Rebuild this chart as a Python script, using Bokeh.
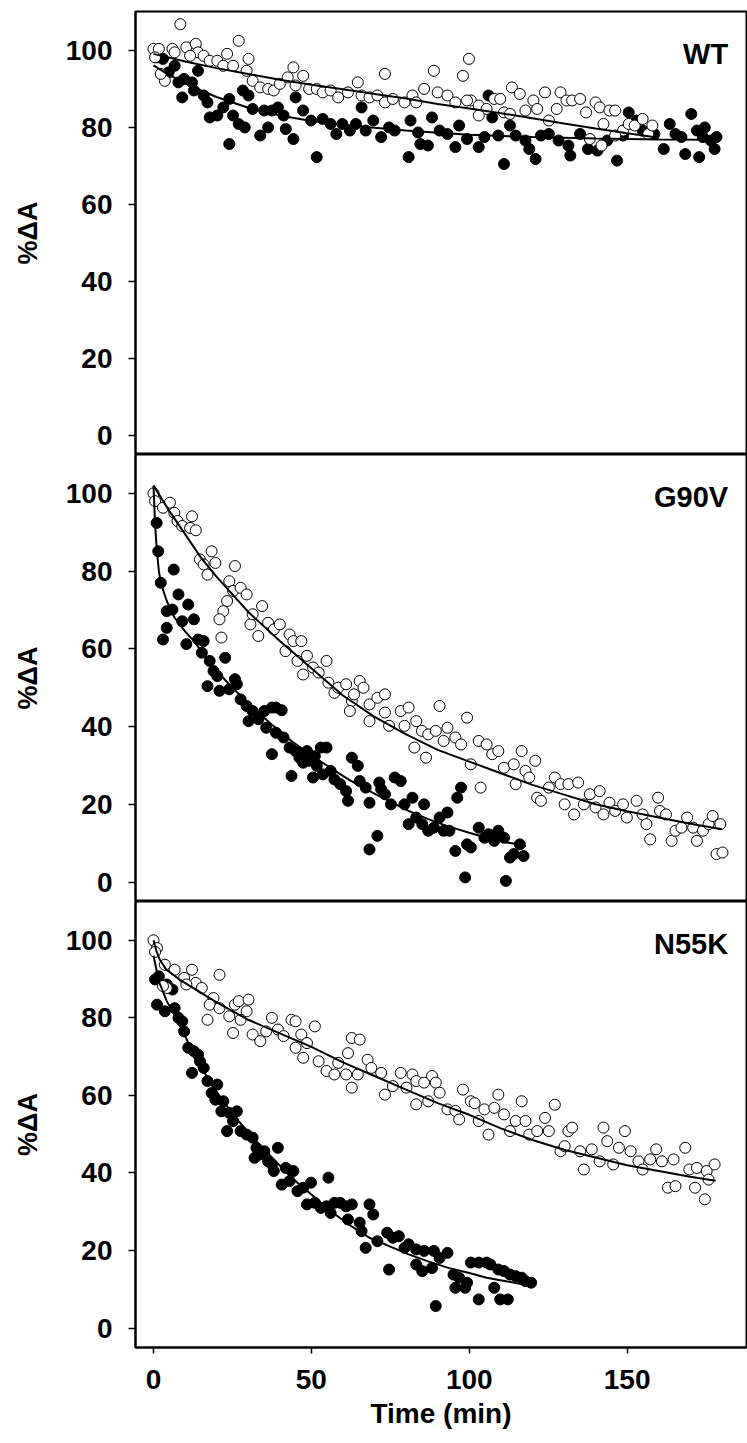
from bokeh.plotting import figure
from bokeh.layouts import column
from bokeh.models import FixedTicker, Label, Range1d
from bokeh.embed import file_html
from bokeh.resources import INLINE

FONT = "Liberation Sans"

# ---------------- WT ----------------
wt_open_t = [0, 1.7, 6, 8.5, 0.5, 3.6, 2.3, 6.7, 10.4, 13.4, 14.1, 11.6, 15.9, 17.8, 20.2, 23.3, 22.1, 25.2, 27, 30.1,
             29.5, 31.4, 33.8, 36.3, 38.1, 40, 42.5, 44.3, 47.4, 45, 49.3, 51.7, 53.6, 56.1, 58.5, 61.6, 64.7, 65.9, 68.4, 70.9,
             73.3, 73.3, 75.8, 79.5, 82, 85.7, 88.8, 90, 93.1, 95.6, 98, 99.9, 100.5, 103, 105.5, 107.9, 109.8, 111, 113.5, 116,
             117.8, 120.3, 124, 125.2, 127.7, 128.9, 130.8, 132.6, 135.1, 137, 140, 141.3, 142.5, 144.4, 146.2, 148.7, 150.5, 152.4, 154.9, 156.7,
             158, 138.2, 146.2, 141.9, 121.5, 112.9, 103, 99.3, 83.2]
wt_open_y = [100.3, 100.3, 100.3, 106.7, 98.1, 92, 93.8, 99.4, 100.7, 101.6, 99.4, 98.5, 98.5, 97.2, 97.2, 99, 95.9, 95.9, 102.4, 97.7,
             94.6, 92, 90.3, 89.9, 89.5, 91.2, 92.9, 95.5, 93.3, 90.8, 89.9, 89.9, 89, 89.5, 87.7, 89, 91.6, 88.2, 87.7, 88.2,
             93.8, 86.4, 87.3, 86.4, 88.2, 89.9, 94.6, 89, 88.2, 86.4, 93.3, 97.7, 86.9, 85.6, 84.7, 87.3, 87.3, 83.8, 90.3, 88.6,
             84.3, 86.9, 89, 81.7, 84.7, 89, 86.9, 86.9, 87.3, 83.8, 86.4, 85.1, 80.8, 84.3, 84.3, 79.1, 80.8, 80.4, 82.1, 78.2,
             80.4, 76.9, 77.8, 75.2, 84.7, 83.4, 83, 86.9, 86.4]
wt_fill_t = [1.1, 3, 6.7, 4.8, 7.9, 9.7, 9.1, 12.2, 14.1, 12.8, 15.9, 17.1, 17.8, 20.2, 22.1, 24, 25.2, 27, 28.9, 28.3,
             30.1, 24, 31.4, 35.1, 33.8, 36.3, 37.5, 39.4, 41.2, 41.9, 44.3, 45, 47.4, 49.9, 51.7, 53.6, 56.1, 57.9, 59.8, 62.2,
             64.1, 65.9, 67.2, 69.6, 72.1, 74.6, 76.4, 80.8, 81.4, 83.8, 84.5, 86.9, 88.2, 90.6, 93.1, 95.6, 96.8, 99.3, 103, 104.8,
             106.1, 107.3, 109.2, 111, 112.9, 114.7, 117.8, 119, 121, 122.7, 125.2, 128.3, 131.4, 132, 135.1, 137.6, 140.6, 143.7, 146.8, 148.7,
             150.5, 153, 154.9, 158.6, 161.6, 163.5, 165.3, 167.2, 168.4, 170.3, 172.1, 174, 172.8, 174.6, 176.5, 178.3, 177.7]
wt_fill_y = [98.1, 97.7, 95.9, 94.2, 91.6, 92.5, 87.7, 91.6, 94.6, 89.5, 88.2, 86.4, 82.5, 83, 85.1, 87.3, 83, 80.8, 79.9, 89.5,
             88.2, 75.6, 84.7, 84.3, 77.8, 79.9, 84.3, 85.1, 83, 79.5, 76.9, 87.7, 84.3, 81.7, 72.2, 82.1, 80.8, 78.2, 80.8, 79.1,
             80.8, 85.1, 79.1, 81.7, 77.4, 79.9, 79.1, 72.2, 81.7, 78.6, 75.6, 75.2, 82.5, 79.1, 78.2, 74.8, 80.4, 76.9, 74.8, 77.4,
             88.2, 82.5, 77.8, 70.4, 80.4, 77.8, 76.5, 74.3, 71.7, 77.8, 78.2, 76.5, 75.2, 72.6, 78.2, 74.3, 73.9, 76.5, 71.3, 77.8,
             83.8, 81.7, 79.1, 78.2, 74.3, 80.8, 78.2, 77.4, 73, 83.4, 79.1, 77.4, 72.2, 79.9, 76.5, 77.4, 74.3]
wt_open_fit_t = [0, 10, 20, 30, 40, 50, 60, 70, 80, 90, 100, 110, 120, 130, 140, 150, 160]
wt_open_fit_y = [99, 97, 95.3, 93.8, 92.3, 91, 89.8, 88.6, 87.4, 86, 84.8, 83.6, 82.3, 80.9, 79.6, 78.4, 77.2]
wt_fill_fit_t = [0, 5, 10, 15, 20, 30, 40, 50, 60, 70, 80, 90, 100, 120, 140, 160, 178]
wt_fill_fit_y = [96, 93.5, 91.5, 89.5, 87.8, 85, 83, 81.6, 80.6, 79.8, 79.1, 78.5, 78, 77.4, 77, 76.8, 76.7]

# ---------------- G90V ----------------
g90v_open_t = [0, 0.5, 3, 5.2, 6.6, 7.6, 9.1, 12.2, 11.6, 13.4, 14.7, 15.9, 17.1, 18.4, 19.6, 24, 25.8, 25.2, 27.6, 29.5,
               23.3, 22.1, 20.9, 21.5, 30.7, 34.4, 31.4, 33.2, 36.3, 38.1, 40, 41.8, 43.1, 44.3, 46.8, 45.6, 48.6, 47.4, 50.5, 52.3,
               54.8, 55.4, 57.3, 58.5, 61, 62.8, 65.3, 66.5, 63.5, 68.4, 70.9, 73.3, 62.2, 68.4, 73.3, 74.6, 78.3, 80.8, 79.5, 83.2,
               85, 87, 89.4, 90.6, 91.9, 93.1, 95.6, 97.4, 99.3, 100.5, 103, 105.5, 107.3, 103.6, 86.3, 82.6, 109.2, 111, 114.1, 116.6,
               114.7, 117.8, 119, 120.9, 121.5, 122.7, 125.2, 127.1, 128.9, 130.2, 131.4, 133.2, 134.5, 136.3, 138.2, 140, 141.3, 142.5, 144.4, 146.2,
               148.7, 149.9, 153, 154.9, 156.1, 157.3, 159.8, 160.4, 162.3, 164.1, 165.3, 167.2, 169, 170.9, 172.1, 174, 175.8, 177.1, 179.5, 178.3,
               180.2]
g90v_open_y = [100, 98, 96.3, 97.6, 95, 92.9, 91.6, 94.1, 91.1, 90.5, 83, 81.7, 79.1, 85.1, 82.1, 77.4, 81.3, 74.9, 75.7, 74,
               72.3, 69.7, 67.6, 62.9, 66.3, 71, 68.9, 63.3, 66.7, 65, 66.3, 59.4, 63.7, 62, 62, 56.9, 58.2, 53.4, 55.2, 53.9,
               56.9, 51.3, 48.7, 50, 50.9, 46.6, 51.7, 50, 48.3, 45.7, 47.4, 48.3, 44, 41.4, 43.6, 40.2, 44, 44.9, 40.2, 41.4,
               38.9, 38, 38.9, 45.3, 36.3, 39.7, 37.2, 35.4, 42.3, 30.3, 36.3, 35.4, 32.9, 24.3, 32, 34.6, 33.7, 29.4, 30.3, 33.7,
               25.2, 28.6, 26.9, 31.2, 21.7, 20.9, 24.3, 26.9, 25.2, 20, 25.2, 17.4, 25.6, 20, 22.6, 19.2, 23.4, 17.4, 20.4, 18.3,
               20, 16.6, 20.9, 17.4, 14.9, 11, 21.7, 18.3, 17.4, 10.6, 13.2, 14, 16.6, 14, 10.6, 13.2, 14.9, 17, 14.9, 7.2,
               7.6]
g90v_fill_t = [1, 1.5, 2.3, 6.4, 4.2, 6, 7.9, 9.1, 11, 12.8, 4.2, 3, 10.4, 14.1, 15.9, 15.3, 17.8, 19, 20.2, 22.7,
               17.1, 20.9, 24, 25.8, 26.4, 27.6, 29.5, 31.4, 30.1, 33.2, 35.1, 37.5, 38.8, 40.6, 35.7, 38.8, 41.2, 37.5, 43.1, 45,
               46.2, 47.4, 49.3, 51.1, 53, 54.8, 48.6, 51.7, 53.6, 56.1, 43.7, 50.5, 57.3, 59.1, 61, 62.8, 61.6, 64.7, 65.3, 67.2,
               68.4, 71.5, 72.1, 73.3, 75.2, 76.4, 78.3, 79.5, 80.8, 82, 83.2, 85.7, 85.1, 87, 88.8, 90.6, 91.9, 93.1, 93.7, 96.2,
               97.4, 99.3, 100.5, 103, 104.8, 106.1, 107.9, 109.2, 111, 112.9, 114.1, 116, 117.2, 70.9, 68.4, 98.7, 111.6, 95.6]
g90v_fill_y = [92.4, 85.1, 77, 80.4, 69.7, 70.1, 74, 67.1, 71.4, 67.6, 65.4, 62.4, 61.2, 62.4, 62, 59, 56.9, 54.3, 53, 57.7,
               50.4, 49.2, 49.6, 52.2, 50.9, 47, 45.3, 44, 41.4, 41.9, 44, 44.9, 44.9, 44.2, 39.7, 38.4, 37.2, 32.9, 34.6, 33.7,
               32, 30.7, 31.2, 32.4, 34.6, 34.6, 33.7, 29.9, 27.7, 28.6, 27.3, 26.9, 26.4, 25.2, 23.4, 32, 20.9, 29.9, 26, 24.3,
               20.4, 25.6, 23.9, 22.6, 20, 26.9, 26, 20, 14.9, 21.7, 16.6, 20, 14.9, 13.2, 14, 16.6, 13.2, 17.9, 13.2, 21.7,
               24.3, 9.7, 8.9, 14, 11.4, 12.3, 10.6, 13.2, 11.4, 6.3, 7.2, 9.7, 6.7, 11.9, 8.4, 1.2, 0.3, 8]
g90v_open_fit_t = [0, 5, 10, 15, 20, 30, 40, 50, 60, 70, 80, 90, 100, 110, 120, 130, 140, 150, 160, 170, 180]
g90v_open_fit_y = [102, 95.5, 89.5, 83.5, 78.5, 69.5, 62, 55, 48, 42.5, 38, 34, 31, 28, 25, 22.5, 20, 18.2, 16.6, 15, 13.6]
g90v_fill_fit_t = [0, 0.5, 1, 1.7, 2.5, 4.2, 6.7, 10, 12.8, 16, 19, 25, 31.4, 37.5, 43.7, 50, 56, 62, 68.4, 75,
                   80.8, 87, 93.1, 100, 105.5, 112, 118]
g90v_fill_fit_y = [102, 92, 86, 80, 76.5, 72.3, 68, 64.5, 62, 58.5, 55.2, 50, 44.9, 40.5, 36.3, 32.6, 29.4, 26.3, 23.4, 20.7,
                   18.3, 16.2, 14.4, 12.7, 11.4, 10.2, 9.3]

# ---------------- N55K ----------------
n55k_open_t = [0, 1.1, 0.5, 3.6, 6.7, 9.7, 12.2, 13.4, 15.3, 10.4, 4.2, 3, 20.9, 19, 17.8, 20.9, 24, 25.8, 27, 30.1,
               29.5, 27.6, 17.1, 25.2, 31.4, 33.8, 35.7, 37.5, 39.4, 41.2, 43.7, 45, 46.8, 45, 48.6, 51.1, 47.4, 52.3, 54.8, 57.3,
               58.5, 61.6, 62.8, 65.3, 61, 62.8, 64.7, 67.8, 69, 72.1, 73.3, 75.8, 78.3, 80.1, 82, 83.2, 85.7, 88.2, 89.4, 87,
               83.2, 90.6, 93.1, 95.6, 96.8, 98, 100.5, 101.7, 103, 104.8, 106.1, 107.9, 109.2, 111, 112.9, 114.7, 116.6, 117.8, 119, 121.5,
               124, 125.2, 127.1, 128.9, 130.2, 131.4, 132.6, 135.1, 136.3, 138.8, 141.3, 142.5, 143.7, 145.6, 147.4, 149.3, 151.1, 153.6, 154.9, 157.3,
               159.2, 161, 162.9, 165.3, 164.7, 168.4, 169.7, 172.1, 171.5, 174.6, 175.2, 175.8, 177.7]
n55k_open_y = [100, 98, 97, 93.7, 92.4, 90.3, 92.4, 89, 87.7, 88.6, 87.7, 88.2, 91.1, 85.1, 83.4, 82.5, 80.4, 83.4, 84.3, 84.7,
               81.7, 79.5, 79.5, 76.1, 75.7, 74, 76.5, 80, 77, 75.3, 79.5, 79.1, 75.7, 72.3, 73.5, 77.8, 69.7, 68.8, 66.3, 65.4,
               68.4, 70.9, 74.8, 74.4, 65.4, 62, 65.4, 69.2, 67.1, 65.8, 60.2, 62.4, 65.8, 62, 65.4, 63.7, 63.3, 65, 63.3, 58.5,
               57.7, 60.7, 56.4, 56, 53.8, 61.5, 58.5, 58, 53.4, 56.4, 49.9, 56.8, 60.2, 55.1, 50.8, 53.4, 58.5, 53.4, 49.9, 50.8,
               54.2, 50.8, 57.6, 45.6, 46.9, 50.8, 51.7, 45.6, 40.9, 46.1, 43, 51.7, 48.2, 42.2, 46.5, 50.8, 45.6, 43, 40.9, 43.5,
               46.1, 43, 36.2, 36.6, 43.5, 46.5, 40.9, 41.3, 36.2, 33.2, 40.5, 38.3, 42.2]
n55k_fill_t = [0.5, 1.7, 1.1, 4.2, 6, 3.6, 6.7, 7.9, 9.1, 9.7, 11, 12.8, 14.1, 14.7, 12.2, 15.9, 17.1, 20.2, 18.4, 19.6,
               22.1, 21.5, 24, 26.4, 25.2, 27.6, 23.3, 29.5, 31.4, 32.6, 33.8, 32, 35.1, 36.3, 37.5, 39.4, 38.1, 41.9, 44.3, 40.6,
               43.1, 45.6, 47.4, 49.9, 55.4, 48.6, 51.1, 53, 54.8, 57.3, 59.1, 61, 62.8, 56.1, 61.6, 65.3, 65.9, 68.4, 69.6, 67.2,
               70.9, 74, 75.8, 77.7, 79.5, 80.8, 83.2, 85.7, 88.8, 90.6, 93.1, 74.6, 83.2, 85.1, 88.2, 95, 96.8, 99.3, 100.5, 103,
               105.5, 106.7, 109.2, 111, 112.9, 114.7, 116.6, 117.8, 119.6, 107.9, 109.8, 112.2, 103, 95.6, 98.7, 89.4]
n55k_fill_y = [89.9, 90.7, 83.4, 88.6, 87.3, 81.7, 82.5, 80, 79.1, 76.5, 72.3, 71.4, 70.5, 68.8, 65.8, 67.1, 63.7, 62.8, 60.6, 58.9,
               58.5, 55.9, 55.5, 55.9, 53.4, 50.8, 50.8, 49.9, 49.1, 46.5, 44.8, 43.9, 45.6, 43, 42.2, 46.5, 40.5, 41.3, 40.5, 37,
               37.9, 35.3, 36.2, 37.5, 38.8, 31.9, 32.3, 31, 31.4, 32.3, 32.3, 31.4, 31.9, 29.7, 28, 27.2, 25, 31.9, 29.3, 20.7,
               22.4, 24.6, 23.3, 23.7, 20.7, 21.6, 20.3, 19.9, 19.9, 18.1, 19.4, 15.1, 16.4, 14.7, 15.5, 13.8, 13, 11.7, 16.9, 16.9,
               16.9, 16.4, 15.1, 14.7, 13.8, 13.4, 13, 12.1, 11.7, 10.4, 7.4, 7.4, 7.4, 10.4, 10.4, 5.7]
n55k_open_fit_t = [0, 1, 2, 4, 8, 12, 20, 30, 40, 50, 60, 70, 80, 90, 100, 110, 120, 130, 140, 150, 160, 170, 178]
n55k_open_fit_y = [100, 97, 95, 92.5, 90, 88, 84, 79.5, 76, 72.5, 68.5, 65, 61.5, 58, 55, 51.5, 48.5, 46, 44, 42, 40.5, 39, 38]
n55k_fill_fit_t = [0, 1.7, 4.2, 6.7, 10, 12.8, 19, 25.2, 31.4, 37.5, 43.7, 49.9, 56.1, 62, 68.4, 75, 80.8, 87, 93.1, 100,
                   105.5, 111.6, 120]
n55k_fill_fit_y = [96, 89.4, 84.3, 80.8, 75.3, 70.5, 62, 55.1, 49.1, 44, 38.8, 34.5, 30.2, 26.6, 23.3, 21, 19, 17.2, 15.6, 14.2,
                   13, 12.1, 10.8]

panel_names = ["WT", "G90V", "N55K"]
x_ticks = [0, 50, 100, 150]
y_ticks = [0, 20, 40, 60, 80, 100]

x_range = Range1d(-5.7, 187.8)


def make_panel(name, ot, oy, ft, fy, oft, ofy, fft, ffy, height, top, bottom):
    p = figure(width=747, height=height, x_range=x_range, y_range=Range1d(-5, 110),
               output_backend="svg", toolbar_location=None,
               x_axis_location="below" if bottom else None,
               min_border_left=135, min_border_right=1, min_border_top=top,
               min_border_bottom=96 if bottom else 0)
    p.grid.visible = False
    p.outline_line_color = "black"
    p.outline_line_width = 2
    p.background_fill_color = "white"
    p.border_fill_color = "white"

    axes = [p.yaxis[0]] + ([p.xaxis[0]] if bottom else [])
    for ax in axes:
        ax.axis_line_width = 2
        ax.axis_line_color = "black"
        ax.major_tick_line_width = 1.5
        ax.major_tick_in = 0
        ax.minor_tick_line_color = None
        ax.major_label_text_font = FONT
        ax.major_label_text_font_style = "bold"
        ax.major_label_text_font_size = "28px"
        ax.major_label_text_color = "black"
        ax.axis_label_text_font = FONT
        ax.axis_label_text_font_style = "bold"
        ax.axis_label_text_color = "black"

    p.yaxis.ticker = FixedTicker(ticks=y_ticks)
    p.yaxis.major_tick_out = 7
    p.yaxis.major_label_standoff = 16
    p.yaxis.axis_label = "%ΔA"
    p.yaxis.axis_label_text_font_size = "27px"
    p.yaxis.axis_label_standoff = 20

    if bottom:
        p.xaxis.ticker = FixedTicker(ticks=x_ticks)
        p.xaxis.major_tick_out = 6
        p.xaxis.major_label_standoff = 16
        p.xaxis.axis_label = "Time (min)"
        p.xaxis.axis_label_text_font_size = "28px"
        p.xaxis.axis_label_standoff = 6

    p.scatter(ft, fy, size=11, marker="circle", fill_color="black", line_color="black", line_width=1)
    p.scatter(ot, oy, size=11, marker="circle", fill_color="white", line_color="black", line_width=1)
    p.line(oft, ofy, line_color="black", line_width=2)
    p.line(fft, ffy, line_color="black", line_width=2)

    p.add_layout(Label(x=182, y=99, text=name, text_align="right", text_baseline="alphabetic",
                       text_font=FONT, text_font_style="bold", text_font_size="29px", text_color="black"))
    return p


p1 = make_panel(panel_names[0], wt_open_t, wt_open_y, wt_fill_t, wt_fill_y,
                wt_open_fit_t, wt_open_fit_y, wt_fill_fit_t, wt_fill_fit_y, 454, 11, False)
p2 = make_panel(panel_names[1], g90v_open_t, g90v_open_y, g90v_fill_t, g90v_fill_y,
                g90v_open_fit_t, g90v_open_fit_y, g90v_fill_fit_t, g90v_fill_fit_y, 447, 0, False)
p3 = make_panel(panel_names[2], n55k_open_t, n55k_open_y, n55k_fill_t, n55k_fill_y,
                n55k_open_fit_t, n55k_open_fit_y, n55k_fill_fit_t, n55k_fill_fit_y, 542, 0, True)

layout = column(p1, p2, p3, spacing=0)
open("out.html", "w").write(file_html(layout, INLINE))
